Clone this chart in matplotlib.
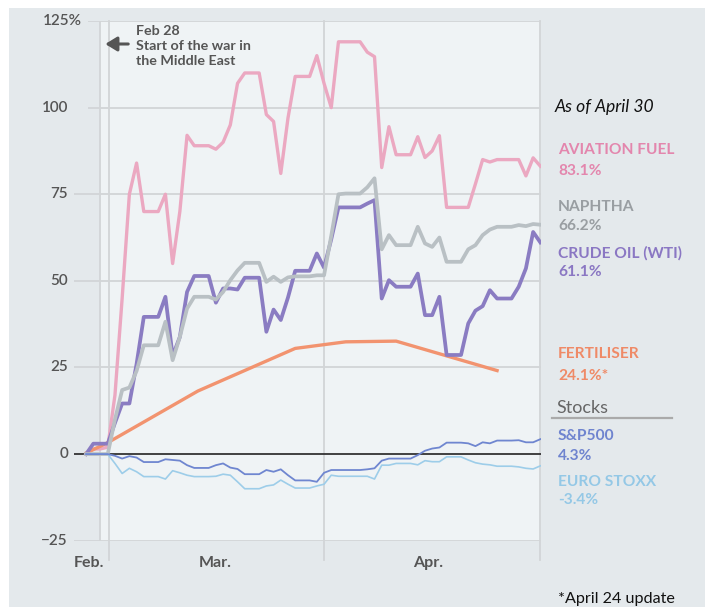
import matplotlib
matplotlib.use("Agg")
import matplotlib.pyplot as plt
from matplotlib.patches import Rectangle, FancyArrowPatch
from matplotlib import transforms
import numpy as np

plt.rcParams['font.family'] = ['Lato', 'DejaVu Sans']

# ---- data: day index 0 = Feb 26 ... 63 = Apr 30 ----
days = list(range(64))

aviation_fuel = [0, 1.5, 1.5, 2, 17, 45, 75, 84, 70, 70, 70, 75, 55, 70, 92, 89, 89, 89, 88, 90,
                 95, 107, 110, 110, 110, 98, 96, 81, 97, 109, 109, 109, 115, 107, 100, 119, 119, 119, 119, 116,
                 114.7, 82.7, 94.5, 86.4, 86.4, 86.4, 91.6, 85.6, 87.5, 91.9, 71.2, 71.2, 71.2, 71.2, 78, 85, 84.3, 85, 85, 85,
                 85, 80.3, 85.5, 83.1]
naphtha = [0, 0, 0, 0, 10, 18.5, 19.2, 24, 31.4, 31.4, 31.4, 38.2, 27.1, 33.8, 42, 45.4, 45.4, 45.4, 44.6, 46.8,
           50.2, 53, 55.2, 55.2, 55.2, 49.7, 51.2, 49.7, 51, 51.3, 51.3, 51.3, 51.6, 51.6, 63, 75, 75.2, 75.2, 75.2, 77,
           79.6, 59.1, 63.2, 60.3, 60.3, 60.3, 65.6, 60.8, 59.8, 62.5, 55.5, 55.5, 55.5, 59.1, 60.3, 63.2, 64.8, 65.6, 65.6, 65.6,
           66.1, 65.8, 66.4, 66.2]
crude_oil = [0, 3, 3, 3, 9, 14.6, 14.6, 26, 39.6, 39.6, 39.6, 45.4, 28.3, 33.8, 46.8, 51.4, 51.4, 51.4, 43.7, 47.8,
             47.8, 47.5, 50.9, 50.9, 50.9, 35.3, 41.7, 38.7, 45.2, 52.9, 52.9, 52.9, 57.9, 53.8, 62, 71.2, 71.2, 71.2, 71.2, 72.3,
             73.3, 44.9, 50.2, 48.3, 48.3, 48.3, 52.1, 40.1, 40.1, 45.4, 28.6, 28.6, 28.6, 37.7, 41.4, 42.7, 47.3, 44.9, 44.9, 44.9,
             48.3, 53.6, 64.1, 61.1]
fert_days = [0, 3, 15.5, 29, 36, 43, 57]
fertiliser = [0.3, 3.3, 18.2, 30.5, 32.4, 32.6, 24.1]
sp500 = [0, 0, 0, 0, -0.5, -1.3, -0.6, -1, -2.3, -2.3, -2.3, -1.5, -1.7, -1.9, -3.2, -4, -4, -4, -3.2, -2.7,
         -3.9, -4.3, -5.8, -5.8, -5.8, -4.6, -5.1, -4.4, -6.1, -7.6, -7.6, -7.6, -8, -5.4, -4.6, -4.6, -4.6, -4.6, -4.6, -4.4,
         -4.1, -1.9, -1.3, -1.3, -1.3, -1.3, -0.3, 0.96, 1.6, 1.9, 3.3, 3.3, 3.3, 3.1, 2.3, 3.4, 3.1, 3.9, 3.9, 3.9,
         4.0, 3.4, 3.4, 4.3]
euro_stoxx = [0, 0, 0, 0, -2.7, -5.6, -4.1, -5.1, -6.5, -6.5, -6.5, -7.2, -4.8, -5.4, -6.1, -6.5, -6.5, -6.5, -6.4, -5.8,
              -6.1, -8, -10, -10, -10, -9.2, -8.9, -7.5, -8.7, -9.8, -9.8, -9.8, -9.2, -8.7, -6.1, -6.4, -6.4, -6.4, -6.4, -6.4,
              -7.2, -3.2, -3.2, -2.7, -2.7, -2.7, -3.1, -1.9, -2.2, -2.2, -0.8, -0.8, -0.8, -1.7, -2.5, -2.9, -3.1, -3.5, -3.5, -3.5,
              -3.7, -4.1, -4.3, -3.4]

yticks = [-25, 0, 25, 50, 75, 100, 125]
month_labels = ["Feb.", "Mar.", "Apr."]
month_label_pos = [0.4, 17.9, 47.4]
month_lines = [3.22, 33.04, 63.0]
war_line = 1.93

legend_names = ["AVIATION FUEL", "NAPHTHA", "CRUDE OIL (WTI)", "FERTILISER", "S&P500", "EURO STOXX"]
legend_values = ["83.1%", "66.2%", "61.1%", "24.1%*", "4.3%", "-3.4%"]

# ---- style ----
W, H = 705, 607
c_pink, c_pink_t = "#eba8c1", "#e386ad"
c_gray, c_gray_t = "#b9c0c4", "#999ea2"
c_purple, c_purple_t = "#8a7cc2", "#8a77c3"
c_orange, c_orange_t = "#f2936f", "#ef8a67"
c_blue, c_blue_t = "#6f86d0", "#6f84cf"
c_lblue, c_lblue_t = "#9dcde9", "#94c8e6"
legend_text_colors = [c_pink_t, c_gray_t, c_purple_t, c_orange_t, c_blue_t, c_lblue_t]
legend_y = [150, 206.5, 253.5, 353.5, 436.5, 481.5]
value_y = [171, 225.5, 272.5, 375.5, 455.5, 500.5]
bg_dark = "#e4e9ec"
bg_light = "#eff3f5"
grid_c = "#d2d5d7"
label_c = "#555555"


def fx(px):
    return px / W


def fy(py):
    return 1 - py / H


fig = plt.figure(figsize=(W / 100, H / 100), dpi=100)
fig.patch.set_facecolor("white")
fig.patches.append(Rectangle((fx(9), 0), 1 - fx(9), fy(8), transform=fig.transFigure,
                             facecolor=bg_dark, edgecolor="none", zorder=-10))

ax_left, ax_right, ax_top, ax_bot = 74, 540.7, 21, 540.7
ax = fig.add_axes([fx(ax_left), fy(ax_bot), (ax_right - ax_left) / W, (ax_bot - ax_top) / H])
ax.set_xlim(-1.68, 63.05)
ax.set_ylim(-25, 125)
ax.axis("off")

# light panel
ax.add_patch(Rectangle((war_line, -25), 63.05 - war_line, 150, facecolor=bg_light, edgecolor="none", zorder=0))

# gridlines
for v in yticks:
    if v == 0:
        continue
    x0 = 0.3 if v >= 100 else -1.68
    ax.plot([x0, 63.05], [v, v], color=grid_c, lw=1.3, zorder=1, solid_capstyle="butt")

ax.plot([war_line, war_line], [-25, 125], color=grid_c, lw=1.3, zorder=1)
ext = -25 - 19.3 / 3.465
for m in month_lines:
    ax.plot([m, m], [ext, 125], color=grid_c, lw=1.3, zorder=1, clip_on=False)

ax.plot([-1.68, 63.05], [0, 0], color="#333333", lw=1.3, zorder=2, solid_capstyle="butt")

# series
ax.plot(days, aviation_fuel, color=c_pink, lw=2.4, zorder=3, solid_joinstyle="round")
ax.plot(fert_days, fertiliser, color=c_orange, lw=2.4, zorder=4, solid_joinstyle="round")
ax.plot(days, crude_oil, color=c_purple, lw=2.7, zorder=5, solid_joinstyle="round")
ax.plot(days, naphtha, color=c_gray, lw=2.7, zorder=6, solid_joinstyle="round")
ax.plot(days, euro_stoxx, color=c_lblue, lw=1.2, zorder=7)
ax.plot(days, sp500, color=c_blue, lw=1.3, zorder=8)

# y tick labels
bt = transforms.blended_transform_factory(fig.transFigure, ax.transData)
for v in yticks:
    if v == 125:
        ax.text(fx(82), v, "125%", transform=bt, ha="right", va="center", fontsize=11,
                fontweight=600, color=label_c)
        continue
    s = f"{v}" if v >= 0 else f"\u2212{-v}"
    ax.text(fx(68), v, s, transform=bt, ha="right", va="center", fontsize=11, fontweight=600, color=label_c)

# month labels
bt2 = transforms.blended_transform_factory(ax.transData, fig.transFigure)
for lab, p in zip(month_labels, month_label_pos):
    ax.text(p, fy(563), lab, transform=bt2, ha="center", va="center", fontsize=11.5,
            fontweight="bold", color=label_c)

# annotation
fig.text(fx(136), fy(25), "Feb 28\nStart of the war in\nthe Middle East", ha="left", va="top",
         fontsize=10.3, fontweight="bold", color=label_c, linespacing=1.3)
arr = FancyArrowPatch((fx(131), fy(44)), (fx(102.5), fy(44)), transform=fig.transFigure,
                      arrowstyle="-|>,head_length=7,head_width=4.3", color="#555555", lw=2.2,
                      mutation_scale=1)
fig.patches.append(arr)

# right side labels
fig.text(fx(555), fy(107), "As of April 30", ha="left", va="center", fontsize=12.6, style="italic", color="#111111")
for name, val, col, ly, vy in zip(legend_names, legend_values, legend_text_colors, legend_y, value_y):
    fig.text(fx(558), fy(ly), name, ha="left", va="center", fontsize=11.2, fontweight="bold", color=col)
    fig.text(fx(558), fy(vy), val, ha="left", va="center", fontsize=11.2, fontweight="bold", color=col)

fig.text(fx(556), fy(408), "Stocks", ha="left", va="center", fontsize=13, color="#666666")
fig.lines.append(plt.Line2D([fx(552), fx(672)], [fy(418), fy(418)], transform=fig.transFigure,
                            color="#aaaaaa", lw=1.6))
fig.text(fx(558), fy(599), "*April 24 update", ha="left", va="center", fontsize=11.6, color="#111111")

fig.savefig("out.png", dpi=100, facecolor=fig.get_facecolor())
